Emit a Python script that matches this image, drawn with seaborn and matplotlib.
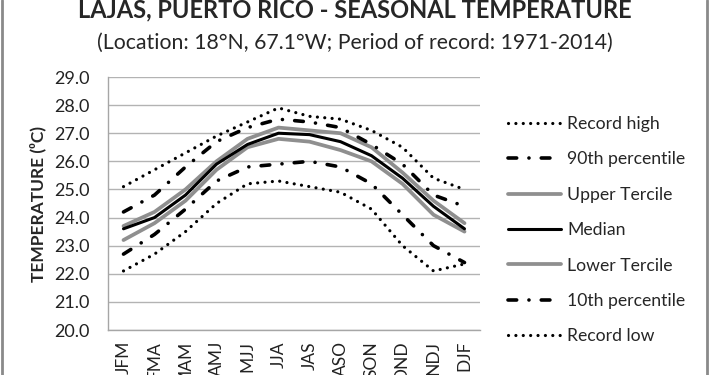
import numpy as np
import pandas as pd
import matplotlib
matplotlib.use("Agg")
import matplotlib.pyplot as plt
import seaborn as sns
from matplotlib.lines import Line2D

# seasons (3-month running windows)
seasons = ['JFM', 'FMA', 'MAM', 'AMJ', 'MJJ', 'JJA', 'JAS', 'ASO', 'SON', 'OND', 'NDJ', 'DJF']

record_high = [25.1, 25.7, 26.3, 26.9, 27.4, 27.9, 27.6, 27.5, 27.1, 26.5, 25.4, 25.0]
pct_90 = [24.2, 24.8, 25.8, 26.7, 27.2, 27.5, 27.4, 27.2, 26.6, 25.9, 24.8, 24.4]
upper_tercile = [23.7, 24.2, 25.0, 26.0, 26.8, 27.2, 27.1, 27.0, 26.5, 25.6, 24.6, 23.8]
median = [23.6, 24.0, 24.8, 25.9, 26.6, 27.0, 26.95, 26.7, 26.2, 25.4, 24.4, 23.6]
lower_tercile = [23.2, 23.8, 24.6, 25.7, 26.5, 26.8, 26.7, 26.4, 26.0, 25.2, 24.1, 23.5]
pct_10 = [22.7, 23.4, 24.3, 25.3, 25.8, 25.9, 26.0, 25.8, 25.2, 24.1, 23.0, 22.4]
record_low = [22.1, 22.7, 23.5, 24.5, 25.2, 25.3, 25.1, 24.9, 24.3, 23.0, 22.1, 22.35]

df = pd.DataFrame({'Season': seasons, 'Record high': record_high, '90th percentile': pct_90,
                   'Upper Tercile': upper_tercile, 'Median': median, 'Lower Tercile': lower_tercile,
                   '10th percentile': pct_10, 'Record low': record_low})

sns.set_theme(style="whitegrid")
plt.rcParams['font.family'] = ['Lato', 'DejaVu Sans']

fig = plt.figure(figsize=(7.1, 3.75), dpi=100)
ax = fig.add_axes([108 / 710, 45 / 375, 372 / 710, 253 / 375])

dotted = (0, (0.01, 2.3))
dashdot = (0, (2.4, 3.4, 0.01, 3.4))
gray = '#8f8f8f'

styles = {
    'Record high': dict(color='black', lw=2.3, ls=dotted, z=3),
    '90th percentile': dict(color='black', lw=2.6, ls=dashdot, z=3),
    'Upper Tercile': dict(color=gray, lw=2.7, ls='-', z=2),
    'Median': dict(color='black', lw=2.2, ls='-', z=4),
    'Lower Tercile': dict(color=gray, lw=2.7, ls='-', z=2),
    '10th percentile': dict(color='black', lw=2.6, ls=dashdot, z=3),
    'Record low': dict(color='black', lw=2.3, ls=dotted, z=3),
}

handles = []
for name, st in styles.items():
    sns.lineplot(data=df, x='Season', y=name, ax=ax, color=st['color'], lw=st['lw'], zorder=st['z'],
                 sort=False)
    line = ax.lines[-1]
    line.set_linestyle(st['ls'])
    line.set_dash_capstyle('round')
    line.set_solid_capstyle('round')
    h = Line2D([], [], color=st['color'], lw=st['lw'], ls=st['ls'])
    h.set_dash_capstyle('round')
    handles.append(h)

ax.set_xlim(-0.5, len(seasons) - 0.5)
ax.set_ylim(20, 29)
ax.set_yticks(np.arange(20, 29.5, 1))
ax.set_yticklabels([f'{v:.1f}' for v in np.arange(20, 29.5, 1)], fontsize=13, color='#222222')
ax.set_xticks(range(len(seasons)))
ax.set_xticklabels(seasons, rotation=90, fontsize=12.5, color='#222222', va='top')
ax.tick_params(axis='y', length=0, pad=13)
ax.tick_params(axis='x', length=0, pad=8)
ax.grid(axis='y', color='#b3b3b3', lw=1)
ax.grid(axis='x', visible=False)
ax.set_facecolor('white')
for s in ['top', 'right']:
    ax.spines[s].set_visible(False)
for s in ['left', 'bottom']:
    ax.spines[s].set_color('#a6a6a6')
    ax.spines[s].set_linewidth(1)

ax.set_xlabel('')
ax.set_ylabel('TEMPERATURE (⁰C)', fontsize=12.5, fontweight='bold', labelpad=6)

fig.text(0.5, 1 - 10 / 375, 'LAJAS, PUERTO RICO - SEASONAL TEMPERATURE', ha='center', va='center',
         fontsize=17, fontweight='bold')
fig.text(0.5, 1 - 43 / 375, '(Location: 18°N, 67.1°W; Period of record: 1971-2014)', ha='center',
         va='center', fontsize=15.3)

ax.legend(handles, list(styles.keys()), loc='upper left', bbox_to_anchor=(508 / 710, 1 - 116 / 375),
          bbox_transform=fig.transFigure, frameon=False, fontsize=12.7, handlelength=3.0,
          handletextpad=0.35, labelspacing=1.1, borderaxespad=0, borderpad=0)

# image border lines on left and right
fig.add_artist(Line2D([2 / 710, 2 / 710], [0, 1], color='#8a8a8a', lw=2, transform=fig.transFigure))
fig.add_artist(Line2D([707 / 710, 707 / 710], [0, 1], color='#8a8a8a', lw=2, transform=fig.transFigure))

fig.savefig('out.png', dpi=100)
